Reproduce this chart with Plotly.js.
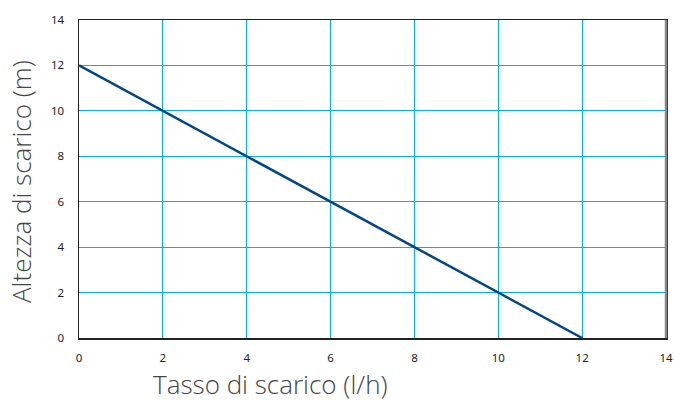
<!DOCTYPE html>
<html><head><meta charset="utf-8">
<script src="https://cdn.plot.ly/plotly-3.0.1.min.js"></script>
<style>html,body{margin:0;padding:0;background:#fff}#c{width:674px;height:401px}</style>
</head><body><div id="c"></div>
<script>
const flowRate = [0, 12];
const dischargeHeight = [12, 0];
const xTicks = [0, 2, 4, 6, 8, 10, 12, 14];
const yTicks = [0, 2, 4, 6, 8, 10, 12, 14];
const xTitle = 'Tasso di scarico (l/h)';
const yTitle = 'Altezza di scarico (m)';

const trace = {x: flowRate, y: dischargeHeight, mode: 'lines', type: 'scatter',
  line: {color: '#00468c', width: 2.5}, hoverinfo: 'skip'};
const grid = '#00b0f0';
const tfont = {family: 'Open Sans, sans-serif', size: 26, color: '#444', weight: 300};
const layout = {
  width: 674, height: 401,
  margin: {l: 79, r: 8, t: 20, b: 63},
  paper_bgcolor: '#fff', plot_bgcolor: '#fff',
  showlegend: false,
  font: {family: 'Noto Sans, sans-serif', color: '#222'},
  xaxis: {range: [0, 14], tickvals: xTicks, ticktext: xTicks.map(String),
    showgrid: true, gridcolor: grid, gridwidth: 1, zeroline: false,
    showline: true, linecolor: '#222', linewidth: 1.5, mirror: true,
    ticks: '', ticklabelstandoff: 9, tickfont: {size: 11.5, color: '#222'}},
  yaxis: {range: [0, 14], tickvals: yTicks, ticktext: yTicks.map(String),
    showgrid: true, gridcolor: grid, gridwidth: 1, zeroline: false,
    showline: true, linecolor: '#222', linewidth: 1.5, mirror: true,
    ticks: '', ticklabelstandoff: 11, tickfont: {size: 11.5, color: '#222'}},
  shapes: [{type: 'line', xref: 'paper', yref: 'paper', x0: 1, x1: 1, y0: 0, y1: 1,
    line: {color: '#888', width: 2.5}}],
  annotations: [
    {text: xTitle, xref: 'paper', yref: 'paper', x: (270-79)/587, y: -(384-338)/318, yanchor: 'middle',
     xanchor: 'center', showarrow: false, borderpad: 0, font: tfont},
    {text: yTitle, xref: 'paper', yref: 'paper', x: (21-79)/587, xanchor: 'center', y: (338-182)/318,
     yanchor: 'middle', textangle: -90, showarrow: false, font: tfont}
  ]
};
Plotly.newPlot('c', [trace], layout, {displayModeBar: false, staticPlot: true});
</script></body></html>
